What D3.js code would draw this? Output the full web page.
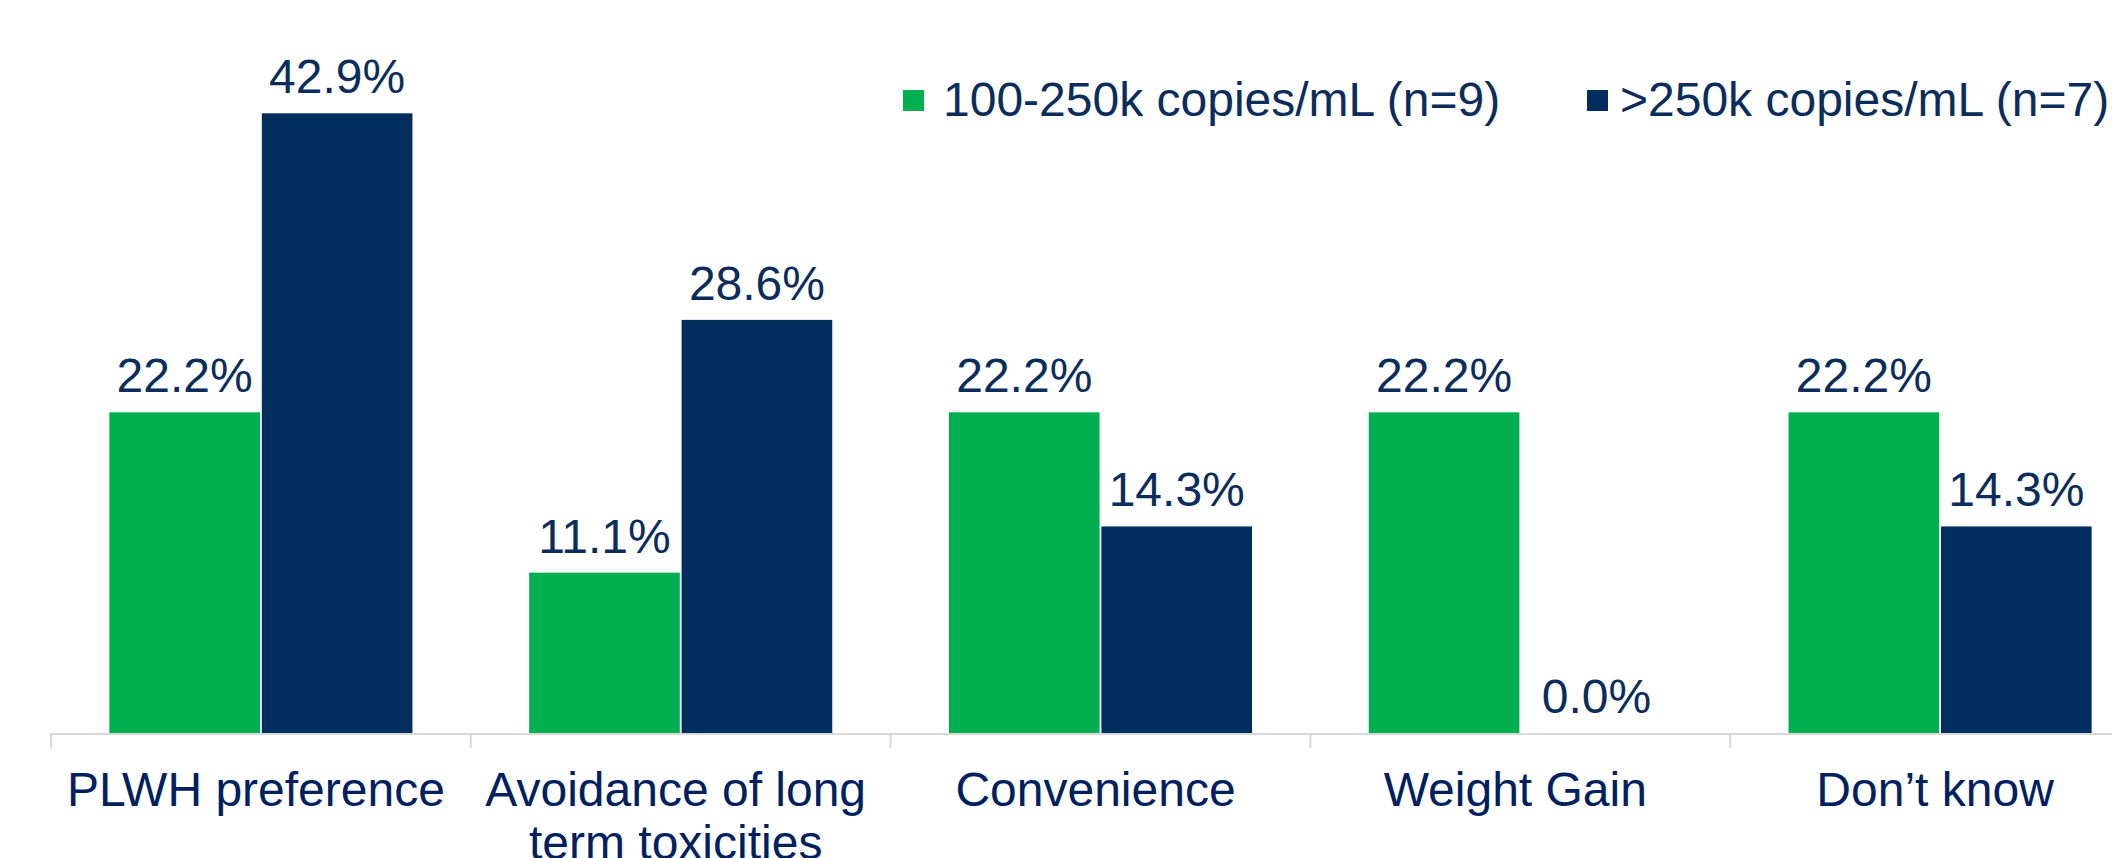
<!DOCTYPE html>
<html>
<head>
<meta charset="utf-8">
<script src="https://cdn.jsdelivr.net/npm/d3@7"></script>
<style>
  html, body { margin: 0; padding: 0; background: #ffffff; overflow: hidden; }
  svg { display: block; font-family: "Liberation Sans", Arial, sans-serif; }
</style>
</head>
<body>
<svg id="chart" width="2112" height="858"></svg>
<script>
// ---- Data ----
const categories = ["PLWH preference", "Avoidance of long term toxicities", "Convenience", "Weight Gain", "Don\u2019t know"];
const seriesNames = ["100-250k copies/mL (n=9)", ">250k copies/mL (n=7)"];
const series1Values = [22.2, 11.1, 22.2, 22.2, 22.2];
const series2Values = [42.9, 28.6, 14.3, 0.0, 14.3];
const seriesColors = ["#00B050", "#002F5F"];

// ---- Layout ----
const W = 2112, H = 858;
const baseY = 733;
const svg = d3.select("#chart");

const x0 = d3.scaleBand()
  .domain(categories)
  .range([51, 2150])
  .paddingInner(0.278)
  .paddingOuter(0.139);

const x1 = d3.scaleBand()
  .domain([0, 1])
  .range([0, x0.bandwidth()])
  .paddingInner(0.012);

const y = d3.scaleLinear()
  .domain([0, 50])
  .range([baseY, 10.75]);

const allValues = [series1Values, series2Values];
const rows = [];
categories.forEach((c, i) => {
  allValues.forEach((vals, s) => rows.push({ cat: c, s: s, v: vals[i] }));
});

// Bars
svg.append("g").selectAll("rect")
  .data(rows)
  .join("rect")
  .attr("x", d => x0(d.cat) + x1(d.s))
  .attr("y", d => y(d.v))
  .attr("width", x1.bandwidth())
  .attr("height", d => y(0) - y(d.v))
  .attr("fill", d => seriesColors[d.s]);

// Value labels
const fmt = d3.format(".1f");
svg.append("g").selectAll("text")
  .data(rows)
  .join("text")
  .attr("x", d => x0(d.cat) + x1(d.s) + x1.bandwidth() / 2)
  .attr("y", d => y(d.v) - 20)
  .attr("text-anchor", "middle")
  .attr("font-size", 48)
  .attr("fill", "#0B2D5B")
  .text(d => fmt(d.v) + "%");

// Axis line and ticks
const axisG = svg.append("g");
axisG.append("line")
  .attr("x1", x0.range()[0]).attr("x2", W)
  .attr("y1", baseY + 1).attr("y2", baseY + 1)
  .attr("stroke", "#D9D9D9").attr("stroke-width", 2);
const tickPos = d3.range(categories.length + 1).map(i => x0.range()[0] + i * x0.step());
axisG.selectAll("line.tick")
  .data(tickPos)
  .join("line")
  .attr("class", "tick")
  .attr("x1", d => d).attr("x2", d => d)
  .attr("y1", baseY).attr("y2", baseY + 15)
  .attr("stroke", "#D9D9D9").attr("stroke-width", 2);

// Category labels with wrapping
const catG = svg.append("g");
categories.forEach(c => {
  const cx = x0(c) + x0.bandwidth() / 2 - 5;
  const t = catG.append("text")
    .attr("x", cx)
    .attr("y", 805.5)
    .attr("text-anchor", "middle")
    .attr("font-size", 48)
    .attr("fill", "#002060");
  const words = c.split(" ");
  let line = [];
  let tspan = t.append("tspan").attr("x", cx).attr("dy", 0);
  words.forEach(w => {
    line.push(w);
    tspan.text(line.join(" "));
    if (tspan.node().getComputedTextLength() > 405 && line.length > 1) {
      line.pop();
      tspan.text(line.join(" "));
      line = [w];
      tspan = t.append("tspan").attr("x", cx).attr("dy", 53).text(w);
    }
  });
});

// Legend
const legendX = [903, 1587];
const legendTextX = [943, 1620];
const legend = svg.append("g");
seriesNames.forEach((name, i) => {
  legend.append("rect")
    .attr("x", legendX[i]).attr("y", 90)
    .attr("width", 21).attr("height", 21)
    .attr("fill", seriesColors[i]);
  legend.append("text")
    .attr("x", legendTextX[i]).attr("y", 116)
    .attr("font-size", 48)
    .attr("fill", "#0B2D5B")
    .text(name);
});
</script>
</body>
</html>
